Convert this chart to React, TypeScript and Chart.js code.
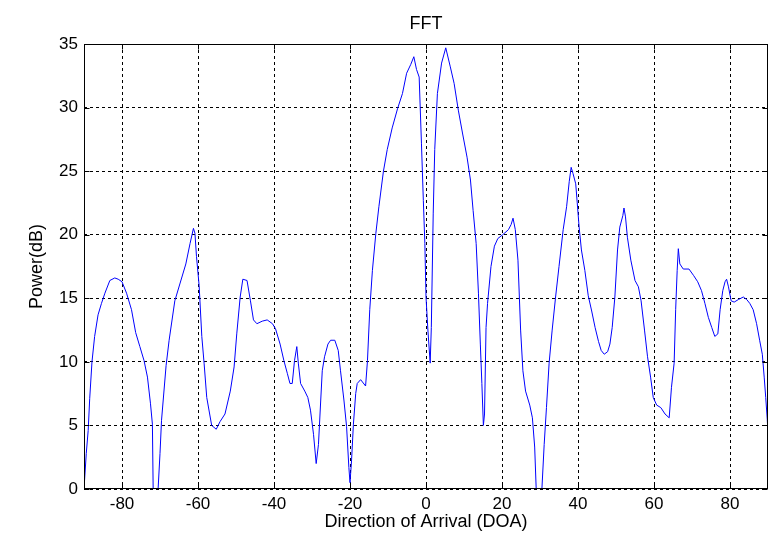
import React, { useEffect, useRef } from "react";
import { Chart, registerables } from "chart.js";

Chart.register(...registerables);

// Direction of arrival (degrees) and power (dB)
const doa = [
  -90, -89.4, -88.9, -88.5, -87.9, -87.2, -86.3, -85.4, -84.5, -83.2, -81.9, -81, -80, -78.8, -77.5, -76.4,
  -75.3, -74.2, -73.3, -72.5, -72, -71.8, -70.5, -70, -69.6, -68.4, -67.6, -66.1, -64.7, -63.2, -62.1, -61.2,
  -60.8, -60.4, -59.7, -59, -58.4, -57.7, -56.4, -55.2, -54.2, -52.9, -51.5, -50.5, -49.8, -48.9, -48.2, -47.1,
  -46.2, -45.4, -44.5, -43.1, -41.8, -40.4, -39.6, -38.4, -37.4, -36.5, -35.8, -35.2, -34.6, -34, -33.6, -33,
  -31.9, -31.1, -30.4, -29.6, -28.9, -28.3, -27.7, -27.3, -26.7, -25.8, -25.1, -24, -23.1, -22.5, -21.6, -20.9,
  -20.3, -20, -19.6, -19.1, -18.5, -18.1, -17.2, -15.9, -15.4, -14.8, -14.1, -13.2, -12.4, -11.2, -10.2, -8.9,
  -7.5, -6.2, -5.1, -4, -3.2, -2.5, -1.8, -1.2, -0.7, -0.3, 0, 0.5, 1.1, 1.4, 1.9, 2.3, 3, 4.1, 5.2, 6.4, 7.4,
  8.5, 9.6, 10.8, 11.7, 12.4, 13.2, 13.8, 14.3, 14.7, 15.1, 15.4, 15.8, 16.2, 17.1, 18, 18.9, 20.2, 21.7, 22.4,
  22.9, 23.5, 24.2, 24.9, 25.5, 26.2, 27.3, 28, 28.6, 29, 30.5, 31.1, 31.7, 32.4, 33.2, 34.1, 35, 36.1, 37,
  37.7, 38.2, 38.7, 39.4, 39.8, 40.3, 40.9, 41.8, 42.7, 43.6, 44.5, 45.4, 46.1, 46.9, 47.8, 48.4, 49, 49.7,
  50.4, 51, 51.8, 52.1, 52.5, 53, 53.9, 55, 55.9, 56.6, 57.5, 58.3, 59.1, 59.8, 60.7, 61.8, 62.9, 64, 64.6,
  65.3, 65.7, 66.1, 66.4, 66.8, 67.7, 69.2, 70.4, 71.5, 72.5, 73.4, 74.3, 75.2, 76, 76.8, 77.4, 78.1, 78.7,
  79.1, 79.6, 80.3, 81.1, 82.2, 83.5, 84.4, 85.2, 86.1, 87, 87.8, 88.5, 89, 89.4, 89.8, 90,
];
const power = [
  0, 2.8, 4.6, 7.1, 10, 12, 13.7, 14.6, 15.4, 16.4, 16.6, 16.5, 16.3, 15.4, 14.1, 12.3,
  11.2, 10.1, 8.8, 6.7, 5.1, 0, 0, 2.8, 5.4, 9.7, 11.7, 14.8, 16.2, 17.7, 19.3, 20.5,
  20.1, 18.3, 16, 12, 9.9, 7.2, 5, 4.7, 5.3, 5.9, 7.7, 9.6, 12.2, 15.1, 16.5, 16.4,
  14.8, 13.3, 13, 13.2, 13.3, 13, 12.6, 11.4, 10.1, 9.1, 8.3, 8.3, 10.1, 11.2, 9.9, 8.3,
  7.7, 7.2, 6.2, 4.3, 2, 3.5, 7, 9.3, 10.4, 11.4, 11.7, 11.7, 10.9, 9.3, 7, 4.9,
  1.7, 0.5, 2.2, 5.1, 7.5, 8.3, 8.6, 8.1, 10.1, 14.1, 17.2, 20.1, 22.2, 25, 26.7, 28.4,
  29.9, 31.1, 32.7, 33.4, 34, 33, 32.4, 27.2, 22.7, 19.3, 15.1, 12.5, 9.9, 12.7, 21.7, 26.7, 31.1, 33.5, 34.7, 33.2, 31.9,
  29.8, 28, 26.1, 24.3, 21.9, 19.3, 15.4, 11.4, 8.3, 5, 5.9, 12.7, 14.6, 17.5, 19.1, 19.7, 20, 20.4, 20.8,
  21.3, 20.4, 18, 12.5, 9.3, 7.7, 6.6, 5.6, 3.3, 0, 0, 3.5, 6.4, 9.9, 12.5, 15.1, 17.5, 20.4, 22.2,
  24.2, 25.3, 24.8, 24, 22.5, 20.6, 18.8, 17.2, 15.2, 14, 12.7, 11.6, 10.9, 10.6, 10.8, 11.4, 12.7, 15.1,
  18.8, 20.6, 21.5, 22.1, 21.4, 19.8, 18, 16.4, 15.9, 14.8, 12.5, 10.4, 8.8, 7.2, 6.6, 6.4, 5.9, 5.6, 8,
  9.9, 14.1, 17.2, 18.9, 17.7, 17.3, 17.3, 16.8, 16.3, 15.6, 14.6, 13.5, 12.7, 12, 12.2, 14.1, 15.6, 16.3,
  16.5, 15.9, 14.8, 14.7, 14.9, 15.1, 14.9, 14.6, 14.1, 13, 11.7, 10.6, 8.8, 7.2, 5.5, 4.3,
];

const xTicks = [-80, -60, -40, -20, 0, 20, 40, 60, 80];
const yTicks = [0, 5, 10, 15, 20, 25, 30, 35];

const chartTitle = "FFT";
const xTitle = "Direction of Arrival (DOA)";
const yTitle = "Power(dB)";

const FONT = "Arial, 'Liberation Sans', Helvetica, sans-serif";

export default function App() {
  const ref = useRef<HTMLCanvasElement>(null);

  useEffect(() => {
    document.body.style.margin = "0";
    const frame = {
      id: "frame",
      afterDatasetsDraw(chart: any) {
        const { ctx, chartArea: a, scales } = chart;
        ctx.save();
        ctx.strokeStyle = "#000";
        ctx.lineWidth = 1;
        ctx.setLineDash([]);
        const L = Math.round(a.left) + 0.5;
        const R = Math.round(a.right) - 0.5;
        const T = Math.round(a.top) + 0.5;
        const B = Math.round(a.bottom) - 0.5;
        ctx.strokeRect(L, T, R - L, B - T);
        const tl = 5;
        ctx.beginPath();
        xTicks.forEach((v) => {
          const px = Math.round(scales.x.getPixelForValue(v)) + 0.5;
          ctx.moveTo(px, B);
          ctx.lineTo(px, B - tl);
          ctx.moveTo(px, T);
          ctx.lineTo(px, T + tl);
        });
        yTicks.forEach((v) => {
          const py = Math.round(scales.y.getPixelForValue(v)) + 0.5;
          ctx.moveTo(L, py);
          ctx.lineTo(L + tl, py);
          ctx.moveTo(R, py);
          ctx.lineTo(R - tl, py);
        });
        ctx.stroke();
        ctx.fillStyle = "#000";
        ctx.font = `18px ${FONT}`;
        ctx.textAlign = "center";
        ctx.textBaseline = "middle";
        ctx.fillText(chartTitle, (a.left + a.right) / 2, 24);
        ctx.restore();
      },
    };

    const chart = new Chart(ref.current as HTMLCanvasElement, {
      type: "line",
      data: {
        datasets: [
          {
            data: doa.map((x, i) => ({ x, y: power[i] })),
            borderColor: "#0000ff",
            borderWidth: 1,
            pointRadius: 0,
            tension: 0,
            fill: false,
          },
        ],
      },
      options: {
        animation: false,
        responsive: false,
        layout: { padding: { top: 44, right: 13, left: 0, bottom: 0 } },
        plugins: {
          legend: { display: false },
          tooltip: { enabled: false },
          title: { display: false },
        },
        scales: {
          x: {
            type: "linear",
            min: -90,
            max: 90,
            afterBuildTicks: (s: any) => {
              s.ticks = xTicks.map((v) => ({ value: v }));
            },
            afterFit: (s: any) => {
              s.height = 48;
            },
            grid: { color: "#000", drawTicks: false, lineWidth: 1 },
            border: { display: false, dash: [3, 3] },
            ticks: {
              color: "#000",
              font: { family: FONT, size: 17 },
              padding: 5,
              maxRotation: 0,
              autoSkip: false,
            },
            title: {
              display: true,
              text: xTitle,
              color: "#000",
              font: { family: FONT, size: 18 },
              padding: { top: 0, bottom: 4 },
            },
          },
          y: {
            type: "linear",
            min: 0,
            max: 35,
            afterBuildTicks: (s: any) => {
              s.ticks = yTicks.map((v) => ({ value: v }));
            },
            afterFit: (s: any) => {
              s.width = 84;
            },
            grid: { color: "#000", drawTicks: false, lineWidth: 1 },
            border: { display: false, dash: [3, 3] },
            ticks: {
              color: "#000",
              font: { family: FONT, size: 17 },
              padding: 6,
              autoSkip: false,
            },
            title: {
              display: true,
              text: yTitle,
              color: "#000",
              font: { family: FONT, size: 18 },
              padding: { top: 26, bottom: 0 },
            },
          },
        },
      },
      plugins: [frame],
    } as any);
    return () => chart.destroy();
  }, []);

  return <canvas ref={ref} width={781} height={537} style={{ display: "block" }} />;
}
